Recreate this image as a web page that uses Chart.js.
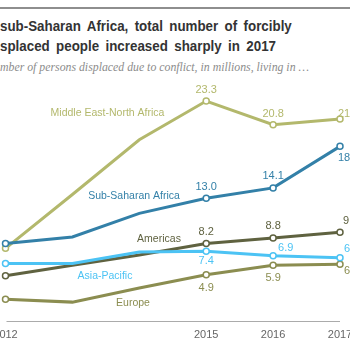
<!DOCTYPE html>
<html>
<head>
<meta charset="utf-8">
<script src="https://cdn.jsdelivr.net/npm/chart.js@4.4.0/dist/chart.umd.min.js"></script>
<style>
  body { margin: 0; background: #fff; }
  #wrap { position: relative; width: 350px; height: 350px; overflow: hidden; }
  #rule { position: absolute; left: 0; top: 7px; width: 350px; height: 2px; background: #8e8e8e; }
  .title {
    position: absolute; left: 0; white-space: nowrap;
    font: bold 15px "Liberation Sans", Arial, sans-serif; line-height: 15px;
    color: #333; word-spacing: 3px;
    transform: scaleX(0.89); transform-origin: 0 0;
  }
  #sub {
    position: absolute; left: 0; top: 62px; white-space: nowrap;
    font: italic 11.8px "Liberation Serif", Georgia, serif; line-height: 11px;
    color: #8c8c8c;
  }
  canvas { position: absolute; left: 0; top: 0; }
</style>
</head>
<body>
<div id="wrap">
  <div id="rule"></div>
  <div class="title" style="top:18px">sub-Saharan Africa, total number of forcibly</div>
  <div class="title" style="top:38px">splaced people increased sharply in 2017</div>
  <div id="sub">mber of persons displaced due to conflict, in millions, living in …</div>
  <canvas id="myChart" width="350" height="350"></canvas>
</div>
<script>
// data, millions of displaced persons
const years = ['2012', '2013', '2014', '2015', '2016', '2017'];
const yearTicks = ['2012', '2015', '2016', '2017'];
const mena = [7.7, 13.4, 19.2, 23.3, 20.8, 21.4];
const subSaharan = [8.2, 8.9, 11.4, 13.0, 14.1, 18.5];
const americas = [4.8, 5.9, 7.0, 8.2, 8.8, 9.4];
const asiaPacific = [6.1, 6.1, 7.3, 7.4, 6.9, 6.7];
const europe = [2.3, 2.0, 3.5, 4.9, 5.9, 6.0];

const hasMarker = [true, false, false, true, true, true];
const markerRadius = hasMarker.map((m) => (m ? 3 : 0));

const COLORS = {
    mena: '#b3b86c',
    ssa: '#3380a8',
    americas: '#5f6240',
    asia: '#4cc3f4',
    europe: '#8b8d50'
};

// order: lower is drawn on top
function series(label, data, color, order) {
    return {
        label: label,
        data: data,
        borderColor: color,
        borderWidth: 3,
        tension: 0,
        pointRadius: markerRadius,
        pointBackgroundColor: '#fff',
        pointBorderColor: color,
        pointBorderWidth: 1.5,
        clip: false,
        order: order
    };
}

// value labels: dataset index, point index, offset from point, alignment
const valueLabels = [
    [0, 3, 0, -11, 'center'], [0, 4, 0, -11, 'center'], [0, 5, -2, -5, 'left'],
    [1, 3, 0, -11.5, 'center'], [1, 4, 0, -11.5, 'center'], [1, 5, -2, 11.5, 'left'],
    [2, 3, 0, -12, 'center'], [2, 4, 0, -11.5, 'center'], [2, 5, 3, -11, 'left'],
    [3, 3, 0, 10, 'center'], [3, 4, 5, -7.5, 'left'], [3, 5, 4, -9, 'left'],
    [4, 3, 0, 13.5, 'center'], [4, 4, 0, 13, 'center'], [4, 5, 4, 7, 'left']
];

// series names placed beside the lines
const seriesNames = [
    ['Middle East-North Africa', 107.5, 113.5, COLORS.mena],
    ['Sub-Saharan Africa', 134, 196.5, COLORS.ssa],
    ['Americas', 159, 239.5, COLORS.americas],
    ['Asia-Pacific', 105, 276, COLORS.asia],
    ['Europe', 133, 303.5, COLORS.europe]
];

const axisPlugin = {
    id: 'axisLine',
    beforeDatasetsDraw(chart) {
        const ctx = chart.ctx;
        const area = chart.chartArea;
        const x = chart.scales.x;
        ctx.save();
        ctx.strokeStyle = '#ababab';
        ctx.lineWidth = 1;
        ctx.beginPath();
        ctx.moveTo(area.left + 1, area.bottom + 0.5);
        ctx.lineTo(area.right, area.bottom + 0.5);
        ctx.stroke();
        ctx.fillStyle = '#666';
        ctx.font = '11px "Liberation Sans", Arial, sans-serif';
        ctx.textAlign = 'center';
        ctx.textBaseline = 'middle';
        yearTicks.forEach((t) => {
            ctx.fillText(t, x.getPixelForValue(years.indexOf(t)), area.bottom + 14);
        });
        ctx.restore();
    }
};

const labelPlugin = {
    id: 'lineLabels',
    afterDatasetsDraw(chart) {
        const ctx = chart.ctx;
        ctx.save();
        ctx.textBaseline = 'middle';
        ctx.font = '11px "Liberation Sans", Arial, sans-serif';
        valueLabels.forEach(([d, i, dx, dy, align]) => {
            const pt = chart.getDatasetMeta(d).data[i];
            const ds = chart.data.datasets[d];
            ctx.fillStyle = ds.borderColor;
            ctx.textAlign = align;
            ctx.fillText(ds.data[i].toFixed(1), pt.x + dx, pt.y + dy);
        });
        ctx.font = '10.5px "Liberation Sans", Arial, sans-serif';
        ctx.textAlign = 'center';
        seriesNames.forEach(([text, x, y, color]) => {
            ctx.fillStyle = color;
            ctx.fillText(text, x, y);
        });
        ctx.restore();
    }
};

const chartContext = document.getElementById('myChart').getContext('2d');
new Chart(chartContext, {
    type: 'line',
    data: {
        labels: years,
        datasets: [
            series('Middle East-North Africa', mena, COLORS.mena, 3),
            series('Sub-Saharan Africa', subSaharan, COLORS.ssa, 1),
            series('Americas', americas, COLORS.americas, 2),
            series('Asia-Pacific', asiaPacific, COLORS.asia, 0),
            series('Europe', europe, COLORS.europe, 4)
        ]
    },
    options: {
        responsive: false,
        animation: false,
        layout: { padding: { left: 5, right: 10, top: 85, bottom: 29 } },
        plugins: { legend: { display: false }, tooltip: { enabled: false } },
        scales: {
            x: { display: false },
            y: { display: false, min: 0, max: 25 }
        }
    },
    plugins: [axisPlugin, labelPlugin]
});
</script>
</body>
</html>
